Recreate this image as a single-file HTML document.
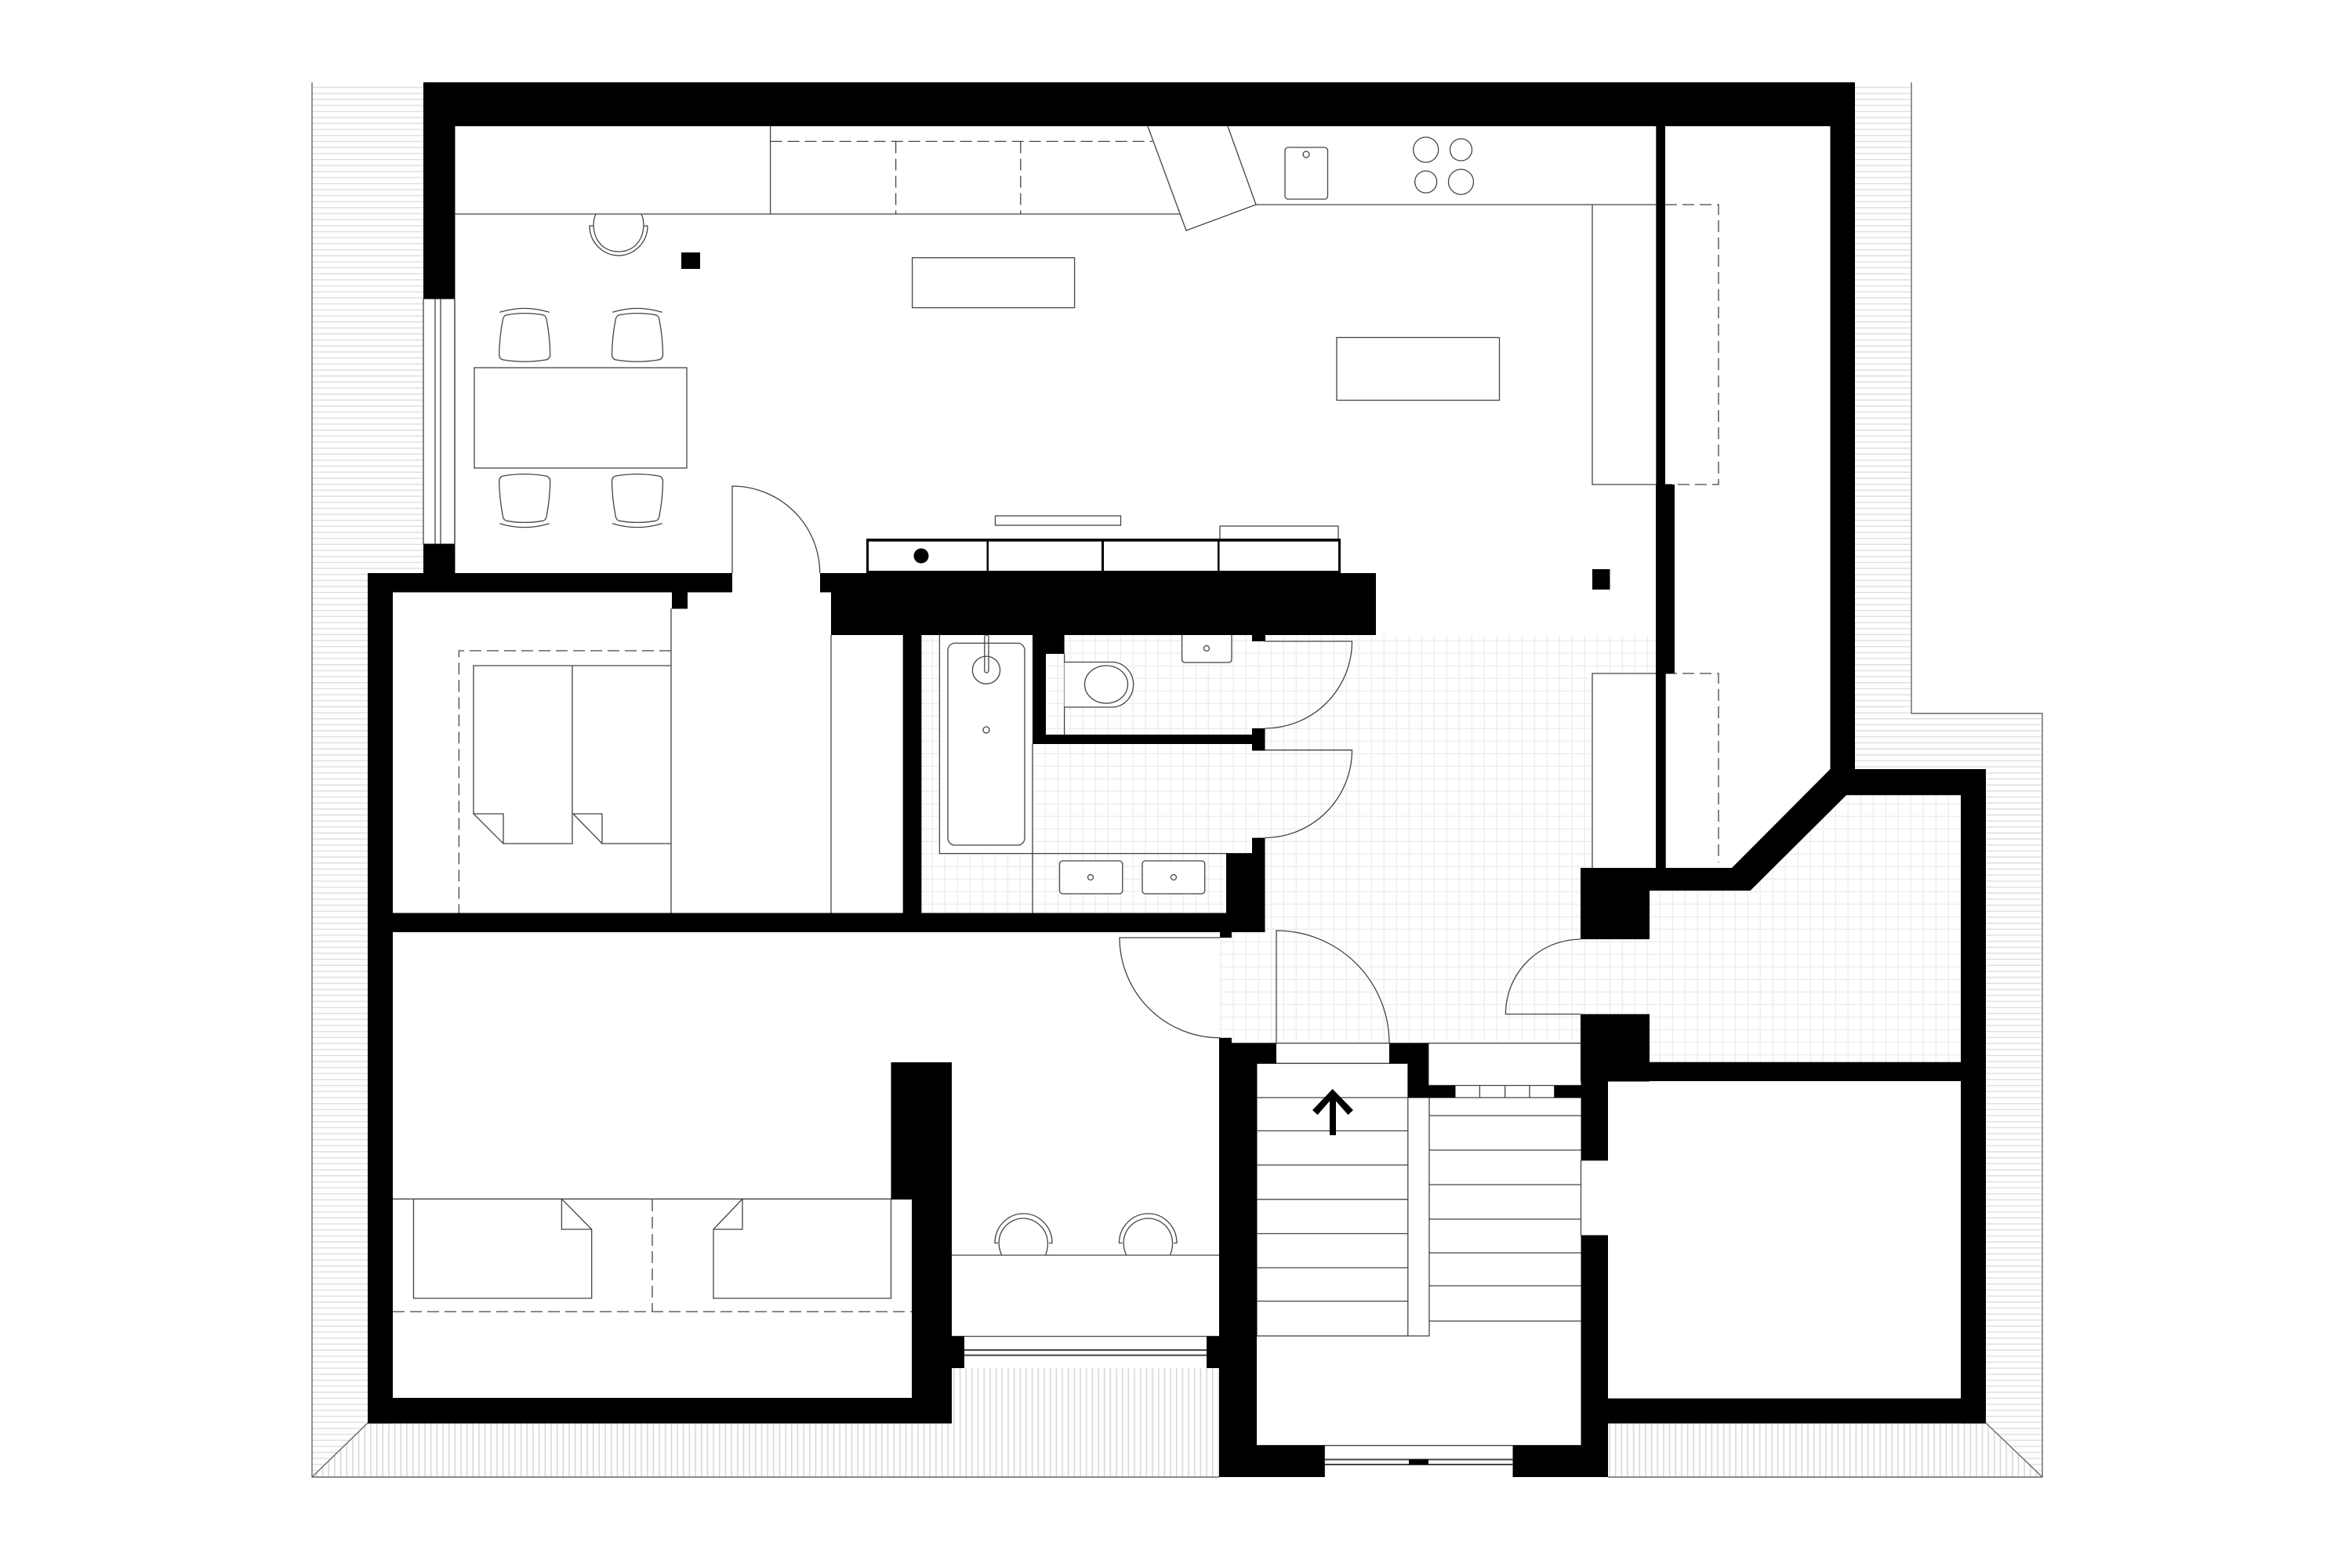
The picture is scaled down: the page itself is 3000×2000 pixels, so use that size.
<!DOCTYPE html>
<html><head><meta charset="utf-8"><title>Floor plan</title>
<style>html,body{margin:0;padding:0;background:#fff}svg{display:block}</style></head>
<body>
<svg xmlns="http://www.w3.org/2000/svg" width="3000" height="2000" viewBox="0 0 3000 2000">
<defs>
<pattern id="hh" patternUnits="userSpaceOnUse" x="0" y="110.7" width="20" height="7.67"><rect width="20" height="7.67" fill="#fff"/><rect y="0" width="20" height="1.5" fill="#e0e0e0"/></pattern>
<pattern id="hv" patternUnits="userSpaceOnUse" x="464.5" y="0" width="7.67" height="20"><rect width="7.67" height="20" fill="#fff"/><rect x="0" width="1.5" height="20" fill="#d6d6d6"/></pattern>
<pattern id="tile" patternUnits="userSpaceOnUse" x="1620.6" y="832.6" width="16" height="16"><rect width="16" height="16" fill="#fff"/><rect width="1.5" height="16" fill="#eeeeee"/><rect width="16" height="1.5" fill="#eeeeee"/></pattern>
<g id="chair" fill="none" stroke="#444" stroke-width="1.3">
<path d="M637.3 398.3Q669 388.5 700.7 398.3"/>
<path d="M646 401.7Q669 397.5 692.7 401.7Q696 402.5 697 407Q701.5 430 701.7 451.7Q701.7 458 696 459Q669 463.5 642 459Q636.7 458 636.7 451.7Q637 430 641.5 407Q642.5 402.5 646 401.7Z"/>
</g>
</defs>
<rect width="3000" height="2000" fill="#fff"/>

<!-- exterior hatching -->
<path d="M398 105H540V731H469V1815L398 1884Z" fill="url(#hh)"/>
<path d="M2366 105H2438V910H2605V1884L2533 1815V981H2366Z" fill="url(#hh)"/>
<path d="M469 1815H1214V1745H1555V1884H398Z" fill="url(#hv)"/>
<path d="M2051 1815H2533L2605 1884H2051Z" fill="url(#hv)"/>
<g fill="none" stroke="#666" stroke-width="1.4">
<path d="M398 105V1884H1555"/>
<path d="M2051 1884H2605V910H2438V105"/>
<path d="M469 1815L398 1884M2533 1815L2605 1884"/>
</g>

<!-- tile -->
<rect x="1175" y="810" width="937" height="354.5" fill="url(#tile)"/>
<rect x="1556" y="1164" width="460" height="167" fill="url(#tile)"/>
<rect x="2016" y="1198" width="88" height="96" fill="url(#tile)"/>
<path d="M2104 1136H2232.6L2355 1014H2501V1355H2104Z" fill="url(#tile)"/>
<rect x="1198" y="810" width="119" height="278.6" fill="#fff"/>
<rect x="2031" y="859" width="81" height="248" fill="#fff"/>

<!-- thin lines -->
<g fill="none" stroke="#444" stroke-width="1.3">
<path d="M580 161V731"/>
<path d="M580 273H1505M982.6 161V273"/>
<path d="M1464 161L1513 294L1602 261H2112M1566 161L1602 261"/>
<path d="M2031 261V618H2112"/>
<path d="M2031 1107V859H2112"/>
<rect x="1163.6" y="328.7" width="207" height="63.8"/>
<rect x="1705" y="430.5" width="207.5" height="80"/>
<rect x="605" y="469" width="271" height="128"/>
<rect x="1269.5" y="658" width="160" height="12"/>
<rect x="1556" y="671" width="151" height="17"/>
<path d="M934 731V620A112 111 0 0 1 1045.7 731"/>
<path d="M540 381V694M540 381H580M540 694H580M555 381V694M562 381V694M580 381V694"/>
<rect x="1639" y="188" width="54.5" height="66" rx="4"/>
<circle cx="1666" cy="197" r="4"/>
<circle cx="1818.7" cy="191" r="16"/>
<circle cx="1863.5" cy="191" r="14"/>
<circle cx="1818.7" cy="232" r="14"/>
<circle cx="1863.5" cy="232" r="16"/>

<!-- kitchen chair -->
<path d="M760 273C752 290 760 321 789 321C818 321 826 290 818 273"/>
<path d="M756.700 288H752C752 310 770 326 789 326C808 326 826 310 826 288H821.300"/>

<!-- bedroom 1 -->
<path d="M856 776V1164.500M1060 810V1164.500"/>
<path d="M604 1038V849H856M730 849V1076H642V1038H604L642 1076"/>
<path d="M856 1076H768V1038H731L768 1076"/>

<!-- bathroom -->
<path d="M1198.400 810V1088.600H1597M1317 949V1164.500M1357.600 834V937"/>
<rect x="1209" y="820.400" width="98" height="257.600" rx="9"/>
<circle cx="1258" cy="854.700" r="17.600"/>
<rect x="1255.800" y="810" width="5.200" height="48" rx="2.500"/>
<circle cx="1258" cy="931" r="4"/>
<path d="M1357.600 844.500H1418A27.600 28.700 0 0 1 1418 902H1357.600" fill="#fff"/>
<ellipse cx="1411" cy="873" rx="27.500" ry="24"/>
<path d="M1507.600 810V841Q1507.600 845 1511.600 845H1567Q1571 845 1571 841V810" fill="#fff"/>
<circle cx="1539" cy="827" r="3.500"/>
<rect x="1351.500" y="1098" width="80.300" height="42" rx="4" fill="#fff"/>
<circle cx="1391" cy="1119" r="3.500"/>
<rect x="1457" y="1098" width="79.700" height="42" rx="4" fill="#fff"/>
<circle cx="1497" cy="1119" r="3.500"/>

<!-- doors -->
<path d="M1613.500 818H1724.500A111 111 0 0 1 1613.500 929"/>
<path d="M1613.500 956.700H1724.500A111.900 111.900 0 0 1 1613.500 1068.600"/>
<path d="M1556 1196H1428A128 128 0 0 0 1556 1323.700" fill="#fff"/>
<path d="M1628 1330.600V1187A144 143.600 0 0 1 1772 1330.600"/>
<path d="M2016 1293.500H1920.400A96 95.500 0 0 1 2016 1198"/>
<path d="M1571 1330.600H2016.500"/>

<!-- stairs -->
<rect x="1603" y="1356.400" width="192.800" height="347.600"/>
<path d="M1603 1400H2016.500M1603 1442.400H1795.800M1603 1486H1795.800M1603 1529.800H1795.800M1603 1573.500H1795.800M1603 1617H1795.800M1603 1659.600H1795.800M1795.800 1704H1823V1400"/>
<path d="M1823 1423H2016.500M1823 1467H2016.500M1823 1511H2016.500M1823 1555H2016.500M1823 1598H2016.500M1823 1640H2016.500M1823 1685H2016.500"/>
<path d="M1823 1384.500H2016.500M1856 1384.500V1400M1887.400 1384.500V1400M1919.700 1384.500V1400M1951 1384.500V1400M1982.700 1384.500V1400"/>
<path d="M1628 1356.400H1772M2016.500 1480V1576"/>
<path d="M1603 1843.700H2016.500M1689.400 1884V1843.700M1930 1884V1843.700"/>
<path stroke-width="2" d="M1689.400 1861.600H1930M1689.400 1868H1930"/>

<!-- bedroom 2 -->
<path d="M501 1529.300H1136.500"/>
<path d="M527.500 1529.300V1656H754.700V1568H716.400V1529.300L754.700 1568"/>
<path d="M1136.500 1529.300V1656H910V1568H947V1529.300L910 1568"/>
<path d="M1214 1601H1555M1214 1704.500H1555"/>
<path stroke-width="2" d="M1230 1722H1539M1230 1728.600H1539"/>
<path d="M1277.700 1601C1266 1575 1285 1554 1305 1554C1325 1554 1344 1575 1333.500 1601"/>
<path d="M1273 1585.500H1269C1269 1565 1285 1548 1305.500 1548C1326 1548 1342 1565 1342 1585.500H1338"/>
<path d="M1436.700 1601C1425 1575 1444 1554 1464.500 1554C1485 1554 1503 1575 1492.500 1601"/>
<path d="M1431.500 1585.500H1427.500C1427.500 1565 1444 1548 1464.500 1548C1485 1548 1501 1565 1501 1585.500H1497"/>
</g>

<!-- dining chairs -->
<use href="#chair"/>
<use href="#chair" transform="translate(143.800 0)"/>
<use href="#chair" transform="matrix(1 0 0 -1 0 1066)"/>
<use href="#chair" transform="matrix(1 0 0 -1 143.800 1066)"/>

<!-- dashed lines -->
<g fill="none" stroke="#444" stroke-width="1.300" stroke-dasharray="15 7">
<path d="M982.600 180.400H1470"/>
<path d="M1142.600 180.400V273M1301.800 180.400V273"/>
<path d="M2124 261H2192V618H2124"/>
<path d="M2124 859H2192V1100"/>
<path d="M856 830H585.400V1164.500"/>
<path d="M501 1673H1163"/>
<path d="M832 1530V1673"/>
</g>

<!-- walls -->
<g fill="#000">
<rect x="540" y="105" width="1826" height="56"/>
<rect x="540" y="161" width="40" height="220"/>
<rect x="540" y="694" width="40" height="37"/>
<rect x="469" y="731" width="465" height="24.500"/>
<rect x="469" y="731" width="32" height="1084.600"/>
<rect x="857" y="755" width="20" height="21.500"/>
<path d="M1046 731H1755V810H1060V755.500H1046Z"/>
<rect x="1597" y="810" width="17" height="8"/>
<rect x="1151.700" y="810" width="23.700" height="355"/>
<rect x="1317" y="810" width="40.600" height="24"/>
<rect x="1317" y="810" width="17" height="139"/>
<rect x="1317" y="937" width="280" height="12"/>
<rect x="1597" y="929" width="16.500" height="28.500"/>
<path d="M1597 1068.600H1613.500V1189H469V1164.500H1564V1088.600H1597Z"/>
<rect x="1556" y="1189" width="15" height="7"/>
<path d="M1136.500 1355H1214V1815.600H469V1783H1163V1530H1136.500Z"/>
<rect x="1214" y="1704.500" width="16" height="40.500"/>
<rect x="1539" y="1704.500" width="16" height="40.500"/>
<path d="M1555 1323.700H1571V1331H1628V1356.500H1603V1843.700H1689.400V1884H1555Z"/>
<path d="M1772 1331H1822.400V1384.500H1856V1400H1796V1356.500H1772Z"/>
<path d="M1982.700 1384.500H2016.500V1331H2051V1480.400H2016.500V1400H1982.700Z"/>
<path d="M2016.500 1575.500H2051V1884H1930V1843.700H2016.500Z"/>
<rect x="1797" y="1861.600" width="25" height="6.400"/>
<rect x="2016" y="1107" width="88" height="91"/>
<rect x="2016" y="1293.500" width="88" height="86"/>
<rect x="2051" y="1354.700" width="482" height="24.300"/>
<rect x="2501" y="981" width="32" height="834.600"/>
<rect x="2051" y="1783.700" width="482" height="31.900"/>
<path d="M2016 1107H2209L2334.500 981V105H2366V981H2533V1014.300H2355L2232.600 1136H2016Z"/>
<rect x="2112.300" y="161" width="11.700" height="457"/>
<rect x="2112" y="618" width="24" height="241"/>
<rect x="2112" y="859" width="12.700" height="248"/>
<rect x="869" y="322" width="24" height="21"/>
<rect x="2031" y="726" width="22.500" height="26"/>
<!-- media unit -->
<rect x="1105" y="687" width="605" height="44"/>
<rect x="1108" y="690.700" width="150.500" height="37.300" fill="#fff"/>
<rect x="1261" y="690.700" width="144" height="37.300" fill="#fff"/>
<rect x="1408" y="690.700" width="145" height="37.300" fill="#fff"/>
<rect x="1555.500" y="690.700" width="151.500" height="37.300" fill="#fff"/>
<circle cx="1175" cy="709" r="9.500"/>
<!-- arrow -->
<path d="M1699.700 1389L1726 1416L1719.500 1422L1704 1404.500V1448H1696V1404.500L1680.600 1422L1674 1416Z"/>
</g>
</svg>
</body></html>
